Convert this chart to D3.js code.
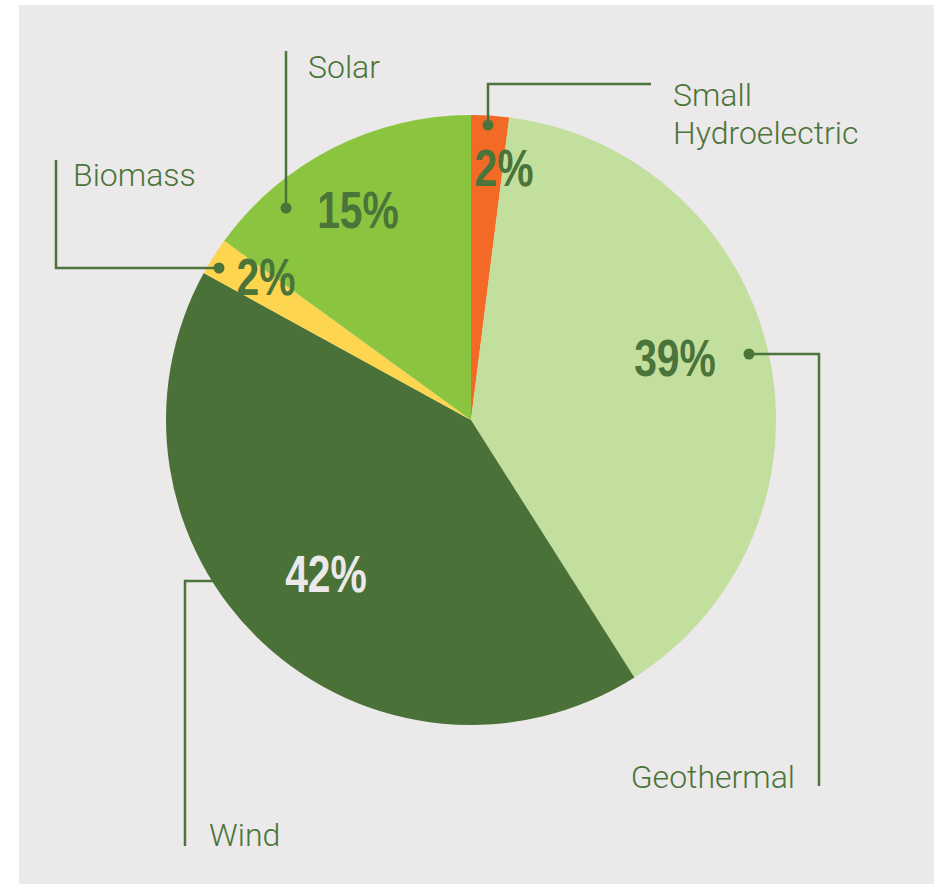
<!DOCTYPE html>
<html>
<head>
<meta charset="utf-8">
<script src="https://cdn.jsdelivr.net/npm/d3@7"></script>
<style>
    body { margin: 0; background: #ffffff; }
    svg { display: block; }
</style>
</head>
<body>
<svg id="viz1" width="941" height="886"></svg>
<script>
// data (clockwise from 12 o'clock)
var sources = ["Small Hydroelectric", "Geothermal", "Wind", "Biomass", "Solar"];
var shares = [2, 39, 42, 2, 15];
var sliceColors = ["#f26a26", "#c3df9d", "#4a7137", "#fdd54f", "#8bc540"];

var width = 941;
var height = 886;
var cx = 471, cy = 420, radius = 305;

var textGreen = "#4a7439";
var panelColor = "#ebe9ea";

// callout layout, relative to the pie centre
// dot = leader start, path = leader bends, label = category name, pct = value label
var callouts = {
    "Small Hydroelectric": { dot: [17, -295], path: [[17, -336], [180, -336]], label: [202, -314], lines: ["Small", "Hydroelectric"], anchor: "start", pct: [33, -234], pctColor: textGreen },
    "Geothermal": { dot: [278, -66], path: [[348, -66], [348, 366]], label: [324, 368], lines: ["Geothermal"], anchor: "end", pct: [204, -44], pctColor: textGreen },
    "Wind": { dot: null, edge: [-258, 161], path: [[-286, 161], [-286, 426]], label: [-262, 426], lines: ["Wind"], anchor: "start", pct: [-145, 172], pctColor: panelColor },
    "Biomass": { dot: [-252, -152], path: [[-415, -152], [-415, -260]], label: [-398, -234], lines: ["Biomass"], anchor: "start", pct: [-205, -125], pctColor: textGreen },
    "Solar": { dot: [-185, -212], path: [[-185, -369]], label: [-163, -342], lines: ["Solar"], anchor: "start", pct: [-113, -192], pctColor: textGreen }
};

var svg = d3.select("#viz1");

svg.append("rect")
    .attr("x", 19)
    .attr("y", 5)
    .attr("width", 915)
    .attr("height", 879)
    .attr("fill", panelColor);

var g = svg.append("g")
    .attr("transform", `translate(${cx},${cy})`);

var pieData = sources.map(function (s, i) {
    return { name: s, value: shares[i], color: sliceColors[i] };
});

var pie = d3.pie()
    .sort(null)
    .value(function (d) { return d.value; });

var arc = d3.arc()
    .innerRadius(0)
    .outerRadius(radius);

var arcs = pie(pieData);

// leader lines under the pie (wind line runs under the slice edge)
var lineG = g.append("g");

g.selectAll("path.slice")
    .data(arcs)
    .enter()
    .append("path")
    .attr("class", "slice")
    .attr("d", arc)
    .attr("fill", function (d) { return d.data.color; });

var calloutG = g.append("g");

arcs.forEach(function (a) {
    var c = callouts[a.data.name];
    var start = c.dot || c.edge;
    var pts = [start].concat(c.path);

    calloutG.append("path")
        .attr("d", d3.line()(pts))
        .attr("fill", "none")
        .attr("stroke", textGreen)
        .attr("stroke-width", 2.5);

    if (c.dot) {
        calloutG.append("circle")
            .attr("cx", c.dot[0])
            .attr("cy", c.dot[1])
            .attr("r", 5.5)
            .attr("fill", textGreen);
    }

    var t = calloutG.append("text")
        .attr("x", c.label[0])
        .attr("y", c.label[1])
        .attr("text-anchor", c.anchor)
        .style("font-family", "Roboto, 'Open Sans', sans-serif")
        .style("font-weight", 300)
        .style("font-size", "32px")
        .style("fill", textGreen);

    c.lines.forEach(function (ln, i) {
        t.append("tspan")
            .attr("x", c.label[0])
            .attr("dy", i === 0 ? 0 : 38)
            .text(ln);
    });

    // condensed bold value label: squeeze a regular bold face horizontally
    calloutG.append("text")
        .attr("transform", `translate(${c.pct[0]},${c.pct[1]}) scale(0.8,1)`)
        .attr("text-anchor", "middle")
        .style("font-family", "'Liberation Sans', Arial, sans-serif")
        .style("font-weight", 700)
        .style("font-size", "51px")
        .style("fill", c.pctColor)
        .text(a.data.value + "%");
});
</script>
</body>
</html>
